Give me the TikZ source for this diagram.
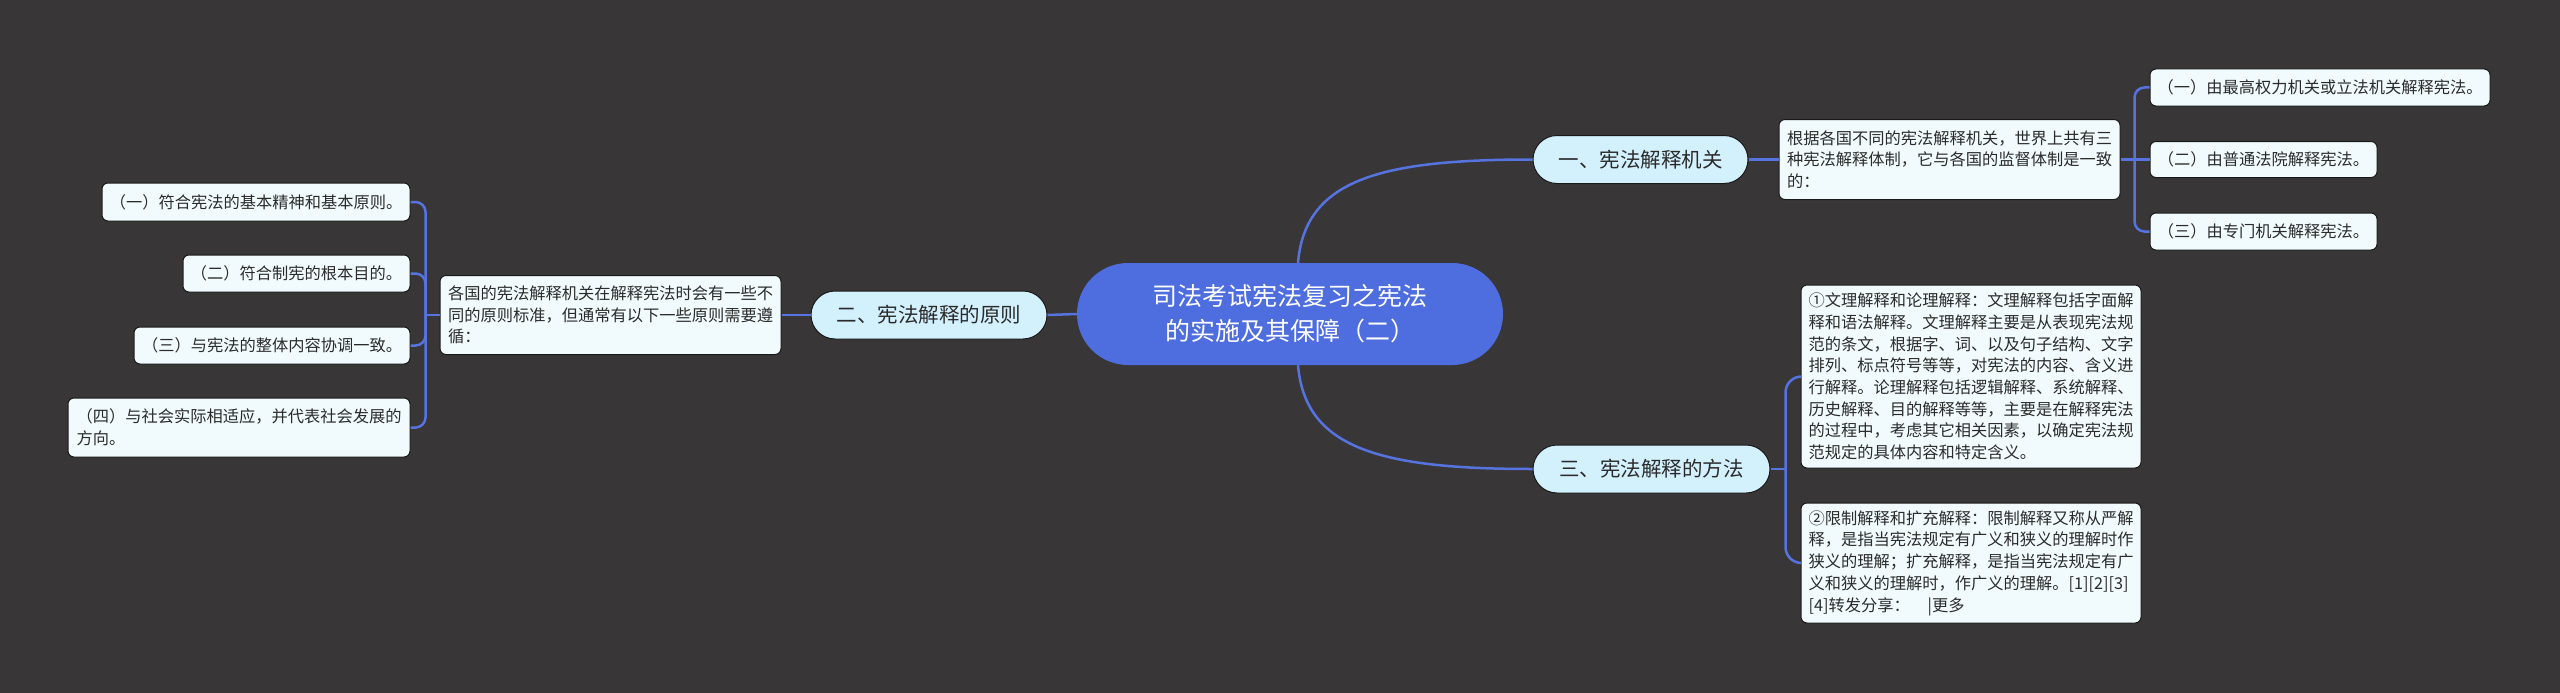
\documentclass[tikz,border=0pt]{standalone}
\usepackage{fontspec}
\newfontfamily\cjk{Noto Sans CJK SC}
\usetikzlibrary{calc}
\definecolor{bg}{HTML}{383637}
\definecolor{rootc}{HTML}{4E6EE0}
\definecolor{linec}{HTML}{5673E0}
\definecolor{lvfill}{HTML}{D3F0FD}
\definecolor{leaffill}{HTML}{F1FBFE}
\definecolor{textc}{HTML}{2B2B2B}
\tikzset{
  rootnode/.style={fill=rootc, rounded corners=51pt, minimum width=426pt, minimum height=102pt, inner sep=0pt, align=center, text=white, font=\cjk\fontsize{25}{35}\selectfont},
  lvnode/.style={draw=black!90, line width=1pt, fill=lvfill, rounded corners=24pt, minimum height=48pt, inner sep=0pt, text=textc, font=\cjk\fontsize{20.5}{24}\selectfont},
  leaf/.style={draw=black!90, line width=1pt, fill=leaffill, rounded corners=6pt, inner sep=0pt, align=left, text=textc, font=\cjk\fontsize{16.25}{21.7}\selectfont},
  conn/.style={draw=linec, line width=2.5pt},
}
\begin{document}
\begin{tikzpicture}[x=1pt,y=-1pt]
\fill[bg] (0,0) rectangle (2560,693);
\useasboundingbox (0,0) rectangle (2560,693);

% root
\node[rootnode] (root) at (1290,314) {司法考试宪法复习之宪法\\的实施及其保障（二）};

% level 1
\node[lvnode, minimum width=215pt] (n1) at (1640.5,159.5) {一、宪法解释机关};
\node[lvnode, minimum width=236pt] (n2) at (929,315) {二、宪法解释的原则};
\node[lvnode, minimum width=237pt] (n3) at (1651.5,469) {三、宪法解释的方法};

% descriptions
\node[leaf, minimum width=341pt, minimum height=80pt] (d1) at (1949.5,159.5) {根据各国不同的宪法解释机关，世界上共有三\\种宪法解释体制，它与各国的监督体制是一致\\的：};
\node[leaf, minimum width=341pt, minimum height=79pt] (d2) at (610.5,315) {各国的宪法解释机关在解释宪法时会有一些不\\同的原则标准，但通常有以下一些原则需要遵\\循：};
\node[leaf, minimum width=340pt, minimum height=183pt] (m1) at (1971,376.5) {①文理解释和论理解释：文理解释包括字面解\\释和语法解释。文理解释主要是从表现宪法规\\范的条文，根据字、词、以及句子结构、文字\\排列、标点符号等等，对宪法的内容、含义进\\行解释。论理解释包括逻辑解释、系统解释、\\历史解释、目的解释等等，主要是在解释宪法\\的过程中，考虑其它相关因素，以确定宪法规\\范规定的具体内容和特定含义。};
\node[leaf, minimum width=340pt, minimum height=120pt] (m2) at (1971,563) {②限制解释和扩充解释：限制解释又称从严解\\释，是指当宪法规定有广义和狭义的理解时作\\狭义的理解；扩充解释，是指当宪法规定有广\\义和狭义的理解时，作广义的理解。[1][2][3]\\{}[4]转发分享：\hspace{1.1em}|更多};

% right leaves
\node[leaf, minimum width=340pt, minimum height=37pt] (c1) at (2320,87.5) {（一）由最高权力机关或立法机关解释宪法。};
\node[leaf, minimum width=227pt, minimum height=36pt] (c2) at (2263.5,159.5) {（二）由普通法院解释宪法。};
\node[leaf, minimum width=227pt, minimum height=37pt] (c3) at (2263.5,231.5) {（三）由专门机关解释宪法。};

% left leaves
\node[leaf, minimum width=308pt, minimum height=38pt] (l1) at (256,202) {（一）符合宪法的基本精神和基本原则。};
\node[leaf, minimum width=227pt, minimum height=37pt] (l2) at (296.5,273.5) {（二）符合制宪的根本目的。};
\node[leaf, minimum width=276pt, minimum height=37pt] (l3) at (272,345.5) {（三）与宪法的整体内容协调一致。};
\node[leaf, minimum width=342pt, minimum height=59pt] (l4) at (239,427.5) {（四）与社会实际相适应，并代表社会发展的\\方向。};

% connectors from root
\draw[conn] (root.west) -- (n2.east);
\draw[conn] ($(root.north)+(8,0)$) .. controls ($(root.north)+(15,-83)$) and ($(n1.west)+(-153,0)$) .. (n1.west);
\draw[conn] ($(root.south)+(8,0)$) .. controls ($(root.south)+(15,83)$) and ($(n3.west)+(-153,0)$) .. (n3.west);

% level1 to descriptions
\draw[conn] (n1.east) -- (d1.west);
\draw[conn] (n2.west) -- (d2.east);

% bracket right top
\coordinate (s1) at ($(d1.east)+(14,0)$);
\draw[conn] (d1.east) -- (s1);
\draw[conn, rounded corners=10pt] (s1) |- (c1.west);
\draw[conn, rounded corners=10pt] (s1) |- (c3.west);
\draw[conn] (s1) -- (c2.west);

% bracket left
\coordinate (s2) at ($(d2.west)+(-14,0)$);
\draw[conn] (d2.west) -- (s2);
\draw[conn, rounded corners=10pt] (s2) |- (l1.east);
\draw[conn, rounded corners=10pt] (s2) |- (l2.east);
\draw[conn, rounded corners=10pt] (s2) |- (l3.east);
\draw[conn, rounded corners=10pt] (s2) |- (l4.east);

% bracket three
\coordinate (s3) at ($(n3.east)+(15,0)$);
\draw[conn] (n3.east) -- (s3);
\draw[conn, rounded corners=16pt] (s3) |- (m1.west);
\draw[conn, rounded corners=16pt] (s3) |- (m2.west);
\end{tikzpicture}
\end{document}
